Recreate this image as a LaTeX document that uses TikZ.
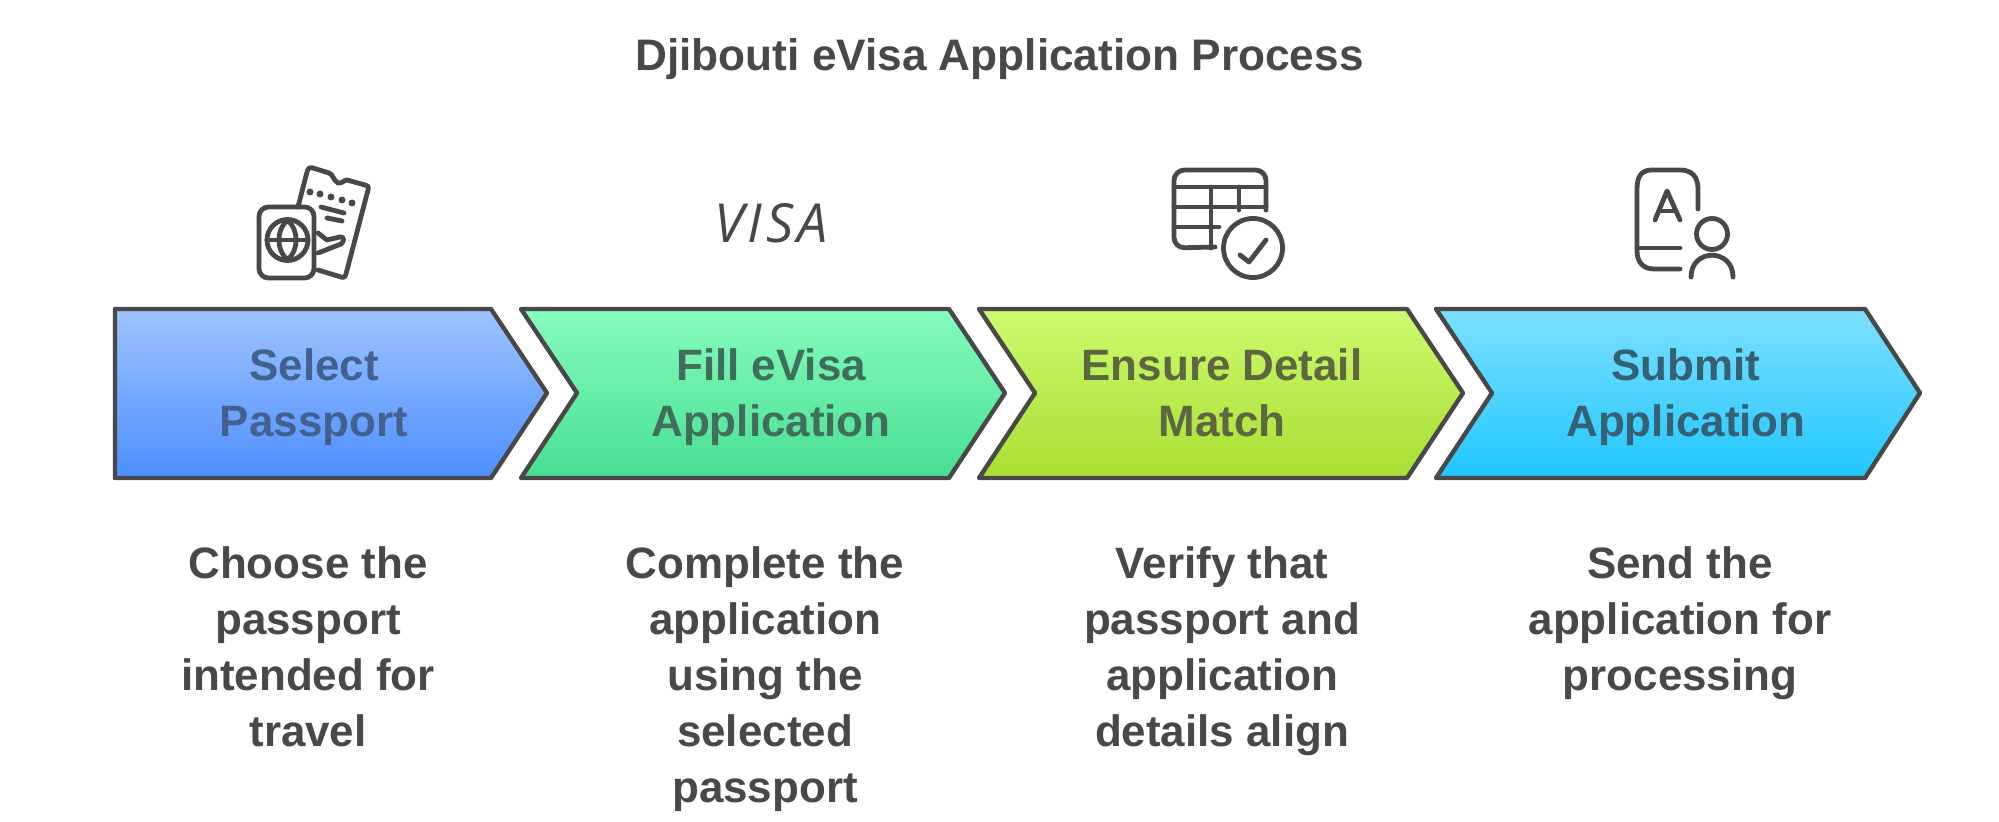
\documentclass[tikz,border=0pt]{standalone}
\usepackage{fontspec}
\setmainfont{Liberation Sans}
\newfontfamily\visafont[LetterSpace=7]{Open Sans}
\definecolor{ink}{HTML}{484848}
\tikzset{
  x=0.03cm,y=-0.03cm,
  chev/.style={draw=ink,line width=4.4*0.8536pt,line join=round,shading angle=0},
  lab/.style={align=center,font=\fontsize{37.5}{47.8}\selectfont\bfseries,anchor=north,inner sep=0pt},
  desc/.style={align=center,font=\fontsize{37.5}{47.8}\selectfont\bfseries,text=ink,anchor=north,inner sep=0pt},
  ico/.style={draw=ink,line width=4.8*0.8536pt,line cap=round,line join=round,fill=none},
}
\begin{document}
\begin{tikzpicture}
\useasboundingbox (0,0) rectangle (1999,822);
\fill[white] (0,0) rectangle (1999,822);
\node[font=\fontsize{37.7}{44}\selectfont\bfseries,text=ink] (title) at (999.5,59) {Djibouti eVisa Application Process};
% chevrons
\path[chev,top color={rgb,255:red,158;green,195;blue,255},bottom color={rgb,255:red,77;green,143;blue,255}]
 (115,309) -- (491,309) -- (547,393) -- (491,478) -- (115,478) -- cycle;
\path[chev,top color={rgb,255:red,134;green,252;blue,188},bottom color={rgb,255:red,71;green,222;blue,146}]
 (521,309) -- (949,309) -- (1005,393) -- (949,478) -- (521,478) -- (577,393) -- cycle;
\path[chev,top color={rgb,255:red,205;green,250;blue,110},bottom color={rgb,255:red,168;green,222;blue,50}]
 (979,309) -- (1407,309) -- (1463,393) -- (1407,478) -- (979,478) -- (1035,393) -- cycle;
\path[chev,top color={rgb,255:red,125;green,224;blue,255},bottom color={rgb,255:red,32;green,198;blue,255}]
 (1436,309) -- (1865,309) -- (1920,393) -- (1865,478) -- (1436,478) -- (1492,393) -- cycle;
\node[lab,text={rgb,255:red,68;green,96;blue,143}] (s1) at (314,341) {\strut Select\\Passport};
\node[lab,text={rgb,255:red,65;green,110;blue,90}] (s2) at (771,341) {\strut Fill eVisa\\Application};
\node[lab,text={rgb,255:red,92;green,102;blue,64}] (s3) at (1222,341) {\strut Ensure Detail\\Match};
\node[lab,text={rgb,255:red,54;green,96;blue,115}] (s4) at (1686,341) {\strut Submit\\Application};
\node[desc] (d1) at (308,539.5) {\strut Choose the\\passport\\intended for\\travel};
\node[desc] (d2) at (765,539.5) {\strut Complete the\\application\\using the\\selected\\passport};
\node[desc] (d3) at (1222,539.5) {\strut Verify that\\passport and\\application\\details align};
\node[desc] (d4) at (1680,539.5) {\strut Send the\\application for\\processing};
% icon 1
\draw[ico] (298,207) -- (307,172) .. controls (308,168) and (310,167) .. (313,168) -- (329,173) .. controls (333,174) and (333,180) .. (338,183) .. controls (341,184) and (344,180) .. (347,180) -- (365,185) .. controls (368,186) and (369,187) .. (368,190) -- (346,274) .. controls (345,277) and (344,278) .. (341,277) -- (318,270);
\draw[ico,rounded corners=8] (259,207) rectangle (314,278);
\draw[ico] (287.5,240) circle (20.5);
\draw[ico] (267,240) -- (308,240);
\draw[ico] (287.5,220) .. controls (276,230) and (276,250) .. (287.5,260) .. controls (299,250) and (299,230) .. (287.5,220);
\foreach \p in {(310,192),(320,194),(331,197),(342,200),(352,203)} \fill[ink] \p circle (3.5);
\draw[ico] (321,207) -- (344,213);
\draw[ico] (327,218) -- (342,221);
\draw[ico] (318,233) -- (327,240) -- (340,237) .. controls (344,236) and (345,241) .. (341,244) -- (318,253);
% visa
\node[font=\visafont\itshape\fontsize{46}{46}\selectfont,text=ink] (visa) at (771,223) {VISA};
% icon 3
\draw[ico,rounded corners=9] (1215,247) -- (1174,248) -- (1174,170) -- (1266,170) -- (1266,210);
\draw[ico] (1174,187) -- (1266,187);
\draw[ico] (1174,207) -- (1266,207);
\draw[ico] (1174,227) -- (1219,227);
\draw[ico] (1211,187) -- (1211,248);
\draw[ico] (1239,187) -- (1239,210);
\draw[ico] (1253,248) circle (29.5);
\draw[ico] (1240,255) -- (1249,262) -- (1266,240);
% icon 4
\draw[ico] (1698,209) -- (1698,189) .. controls (1698,177) and (1692,170) .. (1680,170) -- (1652,170) .. controls (1641,170) and (1637,177) .. (1637,189) -- (1637,251) .. controls (1637,262) and (1643,269) .. (1654,269) -- (1680,269);
\draw[ico] (1637,248) -- (1680,248);
\draw[ico] (1655,220) -- (1667,191) -- (1680,220);
\draw[ico] (1659,211) -- (1676,211);
\draw[ico] (1712,234) circle (15.5);
\draw[ico] (1691,277) .. controls (1691,248) and (1733,248) .. (1733,277);
\end{tikzpicture}
\end{document}
